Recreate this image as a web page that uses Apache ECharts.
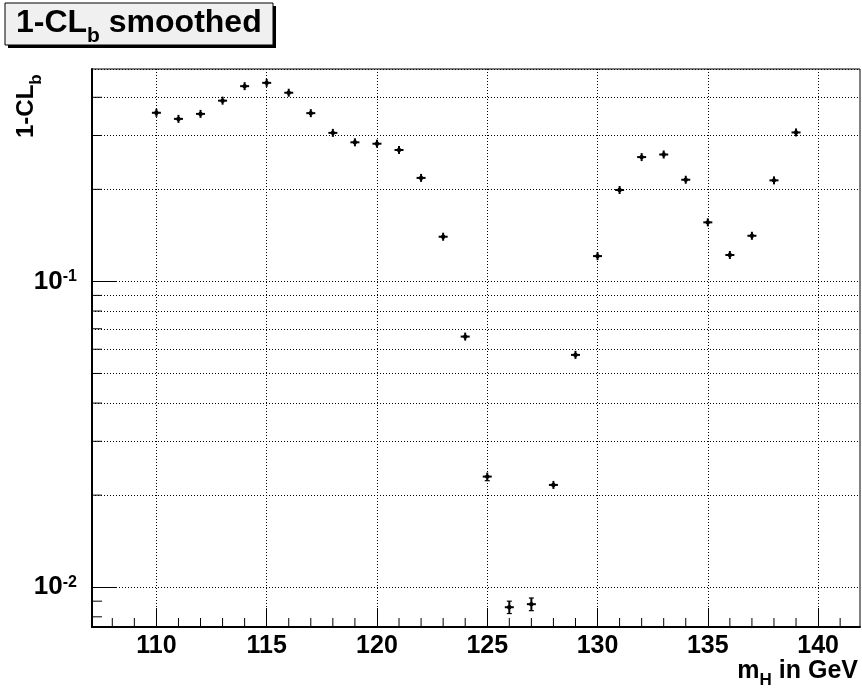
<!DOCTYPE html>
<html><head><meta charset="utf-8">
<script src="https://cdn.jsdelivr.net/npm/echarts@6/dist/echarts.min.js"></script>
<style>html,body{margin:0;padding:0;background:#fff}#c{width:862px;height:688px}</style>
</head><body><div id="c"></div>
<script>
// ---- data ----
const masses = [110,111,112,113,114,115,116,117,118,119,120,121,122,123,124,125,126,127,128,129,130,131,132,133,134,135,136,137,138,139];
const clbValues = [0.356,0.340,0.353,0.390,0.435,0.446,0.414,0.355,0.306,0.285,0.282,0.269,0.218,0.140,0.066,0.0230,0.0086,0.0088,0.0216,0.0575,0.121,0.199,0.255,0.260,0.215,0.156,0.122,0.141,0.214,0.307];
const clbErrors = [0.0035,0.0034,0.0035,0.0039,0.0043,0.0045,0.0041,0.0035,0.0031,0.0029,0.0028,0.0027,0.0022,0.0015,0.0013,0.0007,0.0004,0.00042,0.0006,0.0013,0.0012,0.0020,0.0025,0.0026,0.0021,0.0016,0.0012,0.0014,0.0021,0.0031];
const xTickValues = [110,115,120,125,130,135,140];
const xMinorTickValues = [108,109,111,112,113,114,116,117,118,119,121,122,123,124,126,127,128,129,131,132,133,134,136,137,138,139,141];
const yMinorTickValues = [0.008,0.009,0.02,0.03,0.04,0.05,0.06,0.07,0.08,0.09,0.2,0.3,0.4];
const X_MIN = 107.08, X_MAX = 141.9;
const Y_MIN = 0.00741, Y_MAX = 0.495;

const FONT = "'Liberation Sans', Arial, Helvetica, sans-serif";
const ctx = document.createElement('canvas').getContext('2d');
function tw(t, size){ ctx.font = 'bold ' + size + 'px ' + FONT; return ctx.measureText(t).width; }
function txt(t, x, baseline, size, extra){
  return Object.assign({type:'text', x:x, y: baseline - 0.3465*size,
    style:{text:t, font:'bold ' + size + 'px ' + FONT, fill:'#000', align:'left', verticalAlign:'middle'}}, extra||{});
}

const chart = echarts.init(document.getElementById('c'), null, {renderer:'canvas'});

// title box pieces
const tMain = 32, tSub = 21, tx0 = 16, tBase = 34;
const w1 = tw('1-CL', tMain), wb = tw('b', tSub);
// x-axis title (right aligned)
const xs = 25, xsSub = 17, xRight = 858, xBase = 680;
const wm = tw('m', xs), wH = tw('H', xsSub), wRest = tw(' in GeV', xs);
const xStart = xRight - (wm + wH + wRest);
// y-axis title (rotated)
const ys = 24, ysSub = 17;
const wy1 = tw('1-CL', ys);

const graphics = [
  {type:'rect', shape:{x:8, y:6, width:268, height:42}, style:{fill:'#000'}, z:10},
  {type:'rect', shape:{x:5, y:3, width:268, height:42}, style:{fill:'#f0f0f0', stroke:'#000', lineWidth:1}, z:11},
  txt('1-CL', tx0, tBase, tMain, {z:12}),
  txt('b', tx0 + w1, tBase + 9, tSub, {z:12}),
  txt(' smoothed', tx0 + w1 + wb, tBase, tMain, {z:12}),
  txt('m', xStart, xBase, xs),
  txt('H', xStart + wm, xBase + 6, xsSub),
  txt(' in GeV', xStart + wm + wH, xBase, xs),
  {type:'group', x:0, y:138, rotation:Math.PI/2, children:[
    txt('1-CL', 0, 35, ys),
    txt('b', wy1, 42, ysSub)
  ]}
];

const pointData = masses.map((m,i)=>[m, clbValues[i], clbErrors[i]]);

function renderPoint(params, api){
  const x = api.value(0), y = api.value(1), e = api.value(2);
  const c = api.coord([x,y]);
  const hi = api.coord([x, y+e]), lo = api.coord([x, y-e]);
  const arm = 4;
  const top = Math.min(hi[1], c[1]-arm), bot = Math.max(lo[1], c[1]+arm);
  const st = {stroke:'#000', lineWidth:2};
  const ch = [
    {type:'line', shape:{x1:c[0], y1:top, x2:c[0], y2:bot}, style:st},
    {type:'line', shape:{x1:c[0]-4.5, y1:c[1], x2:c[0]+4.5, y2:c[1]}, style:st},
    {type:'circle', shape:{cx:c[0], cy:c[1], r:2.2}, style:{fill:'#000'}}
  ];
  if (hi[1] < c[1]-arm) ch.push({type:'line', shape:{x1:c[0]-2.5, y1:hi[1], x2:c[0]+2.5, y2:hi[1]}, style:{stroke:'#000', lineWidth:1.2}});
  if (lo[1] > c[1]+arm) ch.push({type:'line', shape:{x1:c[0]-2.5, y1:lo[1], x2:c[0]+2.5, y2:lo[1]}, style:{stroke:'#000', lineWidth:1.2}});
  return {type:'group', children:ch};
}

const gridDash = {color:'#000', width:1, type:[1,2]};

const option = {
  animation:false,
  backgroundColor:'#fff',
  textStyle:{fontFamily:FONT},
  grid:{left:92, right:2, top:69, bottom:61, show:true, borderColor:'#000', borderWidth:1, backgroundColor:'transparent', containLabel:false, outerBoundsMode:'none'},
  xAxis:{
    type:'value', min:X_MIN, max:X_MAX,
    axisLine:{show:true, onZero:false, lineStyle:{color:'#000', width:2}},
    axisTick:{show:true, inside:true, length:19, customValues:xTickValues, lineStyle:{color:'#000', width:1}},
    axisLabel:{show:true, customValues:xTickValues, margin:7, color:'#000', fontSize:25, fontWeight:'bold', fontFamily:FONT},
    splitLine:{show:true, lineStyle:gridDash}
  },
  yAxis:{
    type:'log', logBase:10, min:Y_MIN, max:Y_MAX,
    axisLine:{show:true, onZero:false, lineStyle:{color:'#000', width:2}},
    axisTick:{show:true, inside:true, length:24, lineStyle:{color:'#000', width:1}},
    axisLabel:{show:true, margin:15, color:'#000', showMinLabel:false, showMaxLabel:false,
      formatter:function(v){
        const l = Math.log10(v), r = Math.round(l);
        if (Math.abs(l - r) > 1e-6) return '';
        return '{n|10}{s|' + r + '}';
      },
      rich:{
        n:{fontSize:26, fontWeight:'bold', fontFamily:FONT, color:'#000', lineHeight:26},
        s:{fontSize:16, fontWeight:'bold', fontFamily:FONT, color:'#000', verticalAlign:'top', lineHeight:12}
      }
    },
    splitLine:{show:true, lineStyle:gridDash}
  },
  graphic:graphics,
  series:[
    {
      type:'custom', name:'xMinor', silent:true, z:3,
      data:xMinorTickValues.map(v=>[v, Y_MIN]),
      renderItem:function(p, api){
        const c = api.coord([api.value(0), api.value(1)]);
        return {type:'line', shape:{x1:c[0], y1:c[1], x2:c[0], y2:c[1]-9}, style:{stroke:'#000', lineWidth:1}};
      }
    },
    {
      type:'custom', name:'yMinor', silent:true, z:3,
      data:yMinorTickValues.map(v=>[X_MIN, v]),
      renderItem:function(p, api){
        const c = api.coord([api.value(0), api.value(1)]);
        return {type:'line', shape:{x1:c[0], y1:c[1], x2:c[0]+10, y2:c[1]}, style:{stroke:'#000', lineWidth:1}};
      },
      markLine:{
        silent:true, symbol:['none','none'], label:{show:false}, animation:false,
        lineStyle:gridDash,
        data:yMinorTickValues.map(v=>({yAxis:v}))
      }
    },
    {
      type:'custom', name:'1-CLb', z:5,
      data:pointData,
      renderItem:renderPoint
    }
  ]
};
chart.setOption(option);
</script>
</body></html>
